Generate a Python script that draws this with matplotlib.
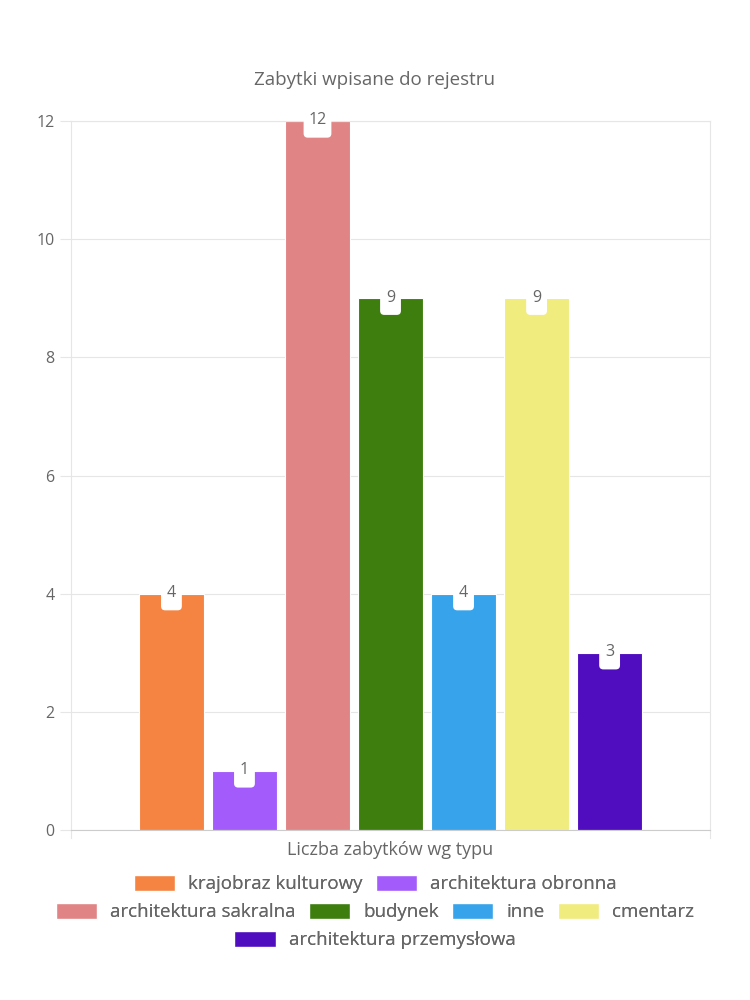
import matplotlib.pyplot as plt
from matplotlib.patches import Patch, FancyBboxPatch
from matplotlib.offsetbox import DrawingArea, AnnotationBbox

# data
categories = ['krajobraz kulturowy', 'architektura obronna', 'architektura sakralna',
              'budynek', 'inne', 'cmentarz', 'architektura przemysłowa']
values = [4, 1, 12, 9, 4, 9, 3]
colors = ['#f58442', '#a35bfb', '#e18485', '#3e7e0e', '#37a3ea', '#f0ec7d', '#500dc0']
y_ticks = [0, 2, 4, 6, 8, 10, 12]

plt.rcParams['font.family'] = ['Open Sans', 'DejaVu Sans']
text_color = '#666666'
grid_color = '#e6e6e6'

fig = plt.figure(figsize=(7.5, 10), dpi=100)
ax = fig.add_axes([0.0947, 0.17, 0.852, 0.709])

n = len(values)
slot = 0.8 / n
width = slot * 0.9
for i, (v, c) in enumerate(zip(values, colors)):
    x = (i - (n - 1) / 2) * slot
    ax.bar(x, v, width=width, color=c, edgecolor='white', linewidth=0.8, zorder=2)
    # white rounded label box hanging below the bar top
    bw = 15 if v < 10 else 20
    da = DrawingArea(bw, 17, 0, 0)
    da.add_artist(FancyBboxPatch((0, 0), bw, 17, boxstyle='round,pad=0,rounding_size=3',
                                 fc='white', ec='none'))
    ab = AnnotationBbox(da, (x, v), xybox=(0, -3.5), boxcoords='offset points',
                        frameon=False, pad=0, box_alignment=(0.5, 0.5), zorder=3)
    ax.add_artist(ab)
    ax.annotate(str(v), (x, v), xytext=(0, 0.5), textcoords='offset points',
                ha='center', va='center', fontsize=11.5, color=text_color, zorder=4)

ax.set_xlim(-0.5, 0.5)
ax.set_ylim(0, 12)
ax.set_yticks(y_ticks)
ax.set_xticks([])
ax.tick_params(axis='y', colors=grid_color, labelcolor=text_color, labelsize=11.5,
               length=8, pad=4)
ax.grid(axis='y', color=grid_color, linewidth=0.8, zorder=0)
for s in ax.spines.values():
    s.set_color(grid_color)
    s.set_linewidth(0.8)
ax.spines['bottom'].set_color('#cccccc')

# small downward ticks at the vertical borders
for xv in (-0.5, 0.5):
    ax.plot([xv, xv], [0, -0.13], color=grid_color, linewidth=0.8, clip_on=False)

ax.set_xlabel('Liczba zabytków wg typu', fontsize=13, color=text_color, labelpad=8)
fig.text(0.5, 0.92, 'Zabytki wpisane do rejestru', ha='center', va='center',
         fontsize=13.5, color=text_color)

# legend in three centered rows
handles = [Patch(facecolor=c, edgecolor='white', label=l) for l, c in zip(categories, colors)]
rows = [(handles[0:2], 0.116), (handles[2:6], 0.088), (handles[6:7], 0.060)]
for hs, yy in rows:
    leg = fig.legend(handles=hs, loc='center', bbox_to_anchor=(0.5, yy), ncol=len(hs),
                     frameon=False, fontsize=13.5, handlelength=2.2, handleheight=1.0,
                     handletextpad=0.7, columnspacing=0.7, labelcolor=text_color)
    fig.add_artist(leg)

fig.savefig('out.png', dpi=100, facecolor='white')
